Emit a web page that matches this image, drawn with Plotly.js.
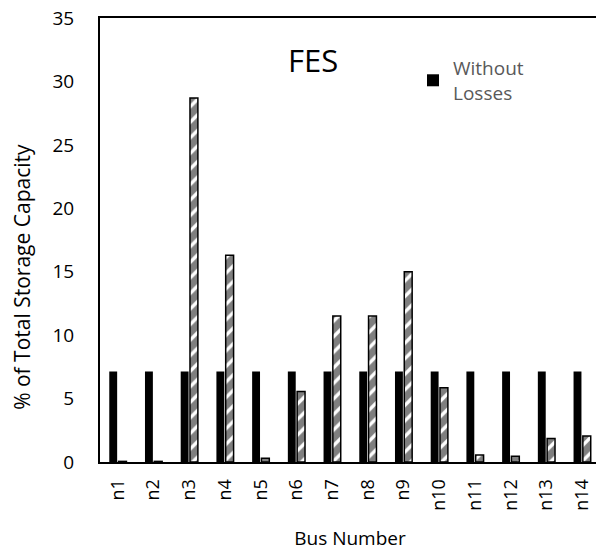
<!DOCTYPE html>
<html><head><meta charset="utf-8">
<script src="https://cdn.plot.ly/plotly-3.0.1.min.js"></script>
<style>html,body{margin:0;padding:0;overflow:hidden;background:#fff}</style>
</head><body>
<div id="chart" style="width:602px;height:551px"></div>
<script>
const categories = ['n1','n2','n3','n4','n5','n6','n7','n8','n9','n10','n11','n12','n13','n14'];
const withoutLosses = [7.14,7.14,7.14,7.14,7.14,7.14,7.14,7.14,7.14,7.14,7.14,7.14,7.14,7.14];
const withLosses = [0.05,0.05,28.7,16.3,0.3,5.55,11.5,11.5,15.0,5.85,0.55,0.45,1.85,2.05];
const yTicks = [0,5,10,15,20,25,30,35];

const font = "'Open Sans', 'Liberation Sans', sans-serif";
const traces = [
  {type:'bar', x:categories, y:withoutLosses, name:'Without<br>Losses',
   marker:{color:'#000000', line:{color:'#000000', width:0}}},
  {type:'bar', x:categories, y:withLosses, name:'With Losses', showlegend:false,
   marker:{color:'#ffffff', line:{color:'#000000', width:1.5},
     pattern:{shape:'/', fgcolor:'#000000', bgcolor:'#ffffff', size:11, solidity:0.7, fillmode:'overlay'}}}
];
const layout = {
  width:602, height:551,
  margin:{l:100, r:2, t:18, b:89},
  paper_bgcolor:'#ffffff', plot_bgcolor:'#ffffff',
  font:{family:font, color:'#000000', size:18},
  barmode:'group', bargap:0.48, bargroupgap:0.15,
  showlegend:true,
  legend:{x:0.626, y:0.93, xanchor:'left', yanchor:'top', bgcolor:'rgba(0,0,0,0)',
    font:{family:font, size:19, color:'#595959'}, itemwidth:30, tracegroupgap:0},
  xaxis:{type:'category', showline:true, linecolor:'#000000', linewidth:2, mirror:true,
    ticks:'', tickangle:-90, ticklabelstandoff:8, tickfont:{family:font, size:18, color:'#000000'},
    title:{text:'Bus Number', font:{family:font, size:19, color:'#000000'}, standoff:22},
    showgrid:false, zeroline:false},
  yaxis:{range:[0,35], tickvals:yTicks, showline:true, linecolor:'#000000', linewidth:2,
    ticks:'', ticklabelstandoff:20, tickfont:{family:font, size:19, color:'#000000'},
    showgrid:false, zeroline:false},
  annotations:[
    {text:'FES', xref:'paper', yref:'y', x:0.425, y:31.7, showarrow:false,
     font:{family:font, size:31, color:'#000000'}},
    {text:'% of Total Storage Capacity', xref:'paper', yref:'paper', x:-0.156, y:0.417,
     xanchor:'center', yanchor:'middle',
     textangle:-90, showarrow:false, font:{family:font, size:21, color:'#000000'}}
  ]
};
Plotly.newPlot('chart', traces, layout, {displayModeBar:false, staticPlot:true});
</script>
</body></html>
